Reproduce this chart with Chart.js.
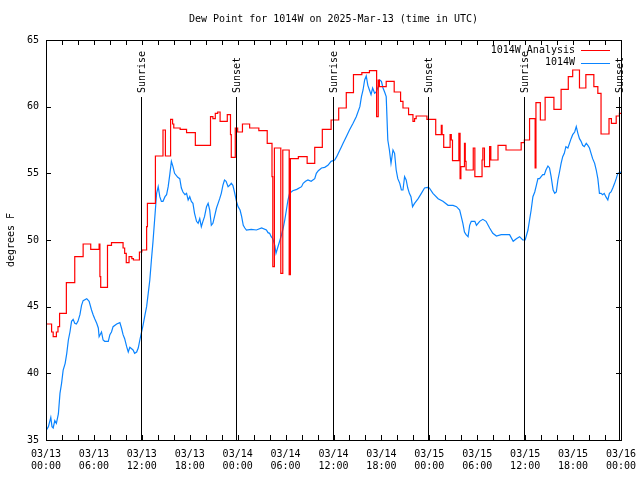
<!DOCTYPE html>
<html><head><meta charset="utf-8">
<script src="https://cdn.jsdelivr.net/npm/chart.js@4/dist/chart.umd.min.js"></script>
<style>html,body{margin:0;padding:0;background:#fff}#wrap{width:640px;height:480px}</style>
</head><body><div id="wrap"><canvas id="c" width="640" height="480"></canvas></div>
<script>
const titleText = 'Dew Point for 1014W on 2025-Mar-13 (time in UTC)';
const yAxisTitle = 'degrees F';
const xTickDates = ['03/13','03/13','03/13','03/13','03/14','03/14','03/14','03/14','03/15','03/15','03/15','03/15','03/16'];
const xTickTimes = ['00:00','06:00','12:00','18:00','00:00','06:00','12:00','18:00','00:00','06:00','12:00','18:00','00:00'];
const seriesLabels = ['1014W Analysis', '1014W'];
const seriesColors = ['#ff0000', '#0a84ff'];

// hours since 03/13 00:00 UTC
const analysisHours = [0.0,0.7,0.9,1.3,1.5,1.7,2.55,3.6,4.65,5.6,6.65,6.75,6.85,7.7,8.2,9.65,9.85,10.05,10.4,10.75,10.95,11.7,12.0,12.6,12.7,13.7,14.65,14.95,15.6,15.85,16.0,16.8,17.6,18.7,20.6,20.9,21.2,21.5,21.8,22.7,23.1,23.2,23.7,24.0,24.6,25.5,26.65,27.7,28.3,28.4,28.6,29.4,29.65,30.45,30.6,31.6,32.7,33.65,34.6,35.7,36.65,37.6,38.5,39.55,40.5,41.4,41.6,41.75,42.6,43.6,44.4,44.7,45.4,45.95,46.15,46.35,47.7,48.8,49.5,49.6,49.8,50.6,50.75,50.9,51.7,51.85,51.95,52.4,52.5,52.6,53.5,53.7,54.6,54.7,54.9,55.55,55.7,56.6,57.6,59.5,59.9,60.55,61.25,61.35,61.9,62.5,63.6,64.5,65.4,65.95,66.8,67.6,68.6,69.1,69.5,70.5,70.8,71.4,71.8,72.0];
const analysisValues = [43.7,43.1,42.75,43.1,43.5,44.5,46.8,48.75,49.7,49.3,49.7,47.25,46.45,49.6,49.8,49.4,49.0,48.3,48.75,48.6,48.5,49.1,49.25,51.0,52.75,56.3,58.25,56.3,59.05,58.7,58.4,58.3,58.05,57.1,59.25,59.1,59.5,59.6,58.9,59.4,57.9,56.2,58.4,58.1,58.7,58.4,58.2,57.25,54.75,48.0,56.9,47.5,56.75,47.4,56.1,56.25,55.75,56.95,58.3,59.0,59.9,61.05,62.4,62.55,62.7,59.25,62.0,61.5,61.9,61.1,60.4,59.9,59.4,58.9,59.1,59.3,59.05,57.9,58.6,57.9,56.95,57.9,57.5,55.95,58.0,54.6,55.5,57.25,55.9,55.25,56.9,54.75,56.0,56.9,55.5,57.0,56.0,57.1,56.75,57.3,57.5,59.1,55.4,60.3,59.0,60.7,59.8,61.3,62.25,62.75,61.4,62.4,61.5,61.0,57.95,59.1,58.75,59.3,59.5,59.5];

const obsHours = [0.0,0.3,0.6,0.75,0.9,1.1,1.3,1.55,1.75,1.95,2.15,2.4,2.6,2.8,3.0,3.2,3.4,3.6,3.8,4.0,4.25,4.45,4.65,5.1,5.4,5.7,5.9,6.1,6.35,6.55,6.65,6.95,7.15,7.35,7.8,8.0,8.2,8.4,8.85,9.25,9.45,9.65,9.85,10.1,10.3,10.5,10.9,11.1,11.35,11.55,11.75,11.95,12.15,12.4,12.6,12.8,13.0,13.2,13.4,13.6,13.85,14.05,14.25,14.45,14.65,14.9,15.1,15.3,15.5,15.7,15.9,16.1,16.5,16.75,16.95,17.15,17.4,17.6,17.8,18.0,18.2,18.4,18.6,18.85,19.05,19.25,19.45,19.65,19.85,20.1,20.3,20.5,20.7,20.9,21.1,21.35,21.55,21.75,21.95,22.15,22.35,22.55,22.8,23.0,23.2,23.4,23.6,23.85,24.05,24.3,24.5,24.7,24.9,25.1,25.7,26.35,27.0,27.6,27.8,28.0,28.2,28.4,28.65,28.8,29.0,29.3,29.5,29.7,29.9,30.1,30.3,30.5,30.9,31.4,32.0,32.2,32.5,32.8,33.2,33.65,33.85,34.1,34.5,34.9,35.3,35.7,36.15,36.4,36.8,37.0,37.2,37.6,38.0,38.45,38.85,39.3,39.5,39.7,39.9,40.1,40.3,40.5,40.7,40.9,41.15,41.35,41.6,41.8,42.0,42.2,42.4,42.6,42.8,43.0,43.2,43.45,43.65,43.85,44.05,44.3,44.5,44.7,44.9,45.1,45.3,45.5,45.7,45.9,46.15,46.6,47.0,47.4,47.75,48.0,48.45,49.1,49.7,50.35,50.97,51.4,51.8,52.0,52.2,52.4,52.6,52.85,53.05,53.25,53.7,53.9,54.1,54.3,54.7,55.1,55.55,55.95,56.4,57.0,57.6,58.05,58.5,58.9,59.3,59.7,60.0,60.35,60.55,60.75,60.97,61.2,61.4,61.6,61.8,62.0,62.2,62.4,62.6,62.85,63.05,63.25,63.5,63.7,63.9,64.1,64.3,64.5,64.7,64.9,65.1,65.35,65.55,65.75,65.95,66.2,66.4,66.6,66.8,67.0,67.2,67.4,67.65,67.85,68.05,68.25,68.45,68.7,68.9,69.1,69.3,69.5,69.7,69.9,70.1,70.35,70.55,70.75,70.97,71.2,71.4,71.6,72.0];
const obsValues = [35.7,36.0,36.7,36.0,35.9,36.45,36.25,36.95,38.5,39.25,40.25,40.75,41.5,42.5,43.1,43.9,44.05,43.75,43.7,43.9,44.4,45.1,45.45,45.6,45.4,44.75,44.4,44.1,43.75,43.4,42.75,43.1,42.5,42.4,42.4,42.9,43.1,43.5,43.7,43.8,43.4,42.9,42.6,42.0,41.6,41.95,41.75,41.5,41.6,41.9,42.5,43.05,43.6,44.4,45.0,46.0,47.0,48.5,49.9,51.5,53.5,54.0,53.25,52.9,52.9,53.25,53.4,54.0,54.9,55.9,55.5,55.0,54.7,54.6,53.9,53.6,53.4,53.5,53.0,53.25,52.9,52.75,52.0,51.4,51.25,51.6,51.0,51.4,51.75,52.5,52.75,52.25,51.1,51.25,51.75,52.4,52.75,53.1,53.5,54.1,54.5,54.4,54.0,54.1,54.25,54.1,53.6,52.9,52.5,52.25,51.75,51.1,50.9,50.75,50.8,50.75,50.9,50.75,50.55,50.5,50.25,50.1,49.6,49.0,49.4,50.0,50.4,50.9,51.5,52.25,53.0,53.5,53.7,53.8,54.0,54.25,54.4,54.5,54.4,54.6,55.0,55.2,55.4,55.45,55.6,55.9,56.0,56.25,56.75,57.0,57.25,57.75,58.25,58.75,59.25,60.0,60.75,61.25,62.0,62.3,61.6,61.25,60.9,61.4,61.0,61.1,61.5,62.0,61.9,61.4,61.1,60.75,57.5,56.75,55.75,56.75,56.5,55.25,54.6,54.25,53.75,53.75,54.75,54.5,53.9,53.5,53.25,52.5,52.75,53.1,53.5,53.9,53.95,53.9,53.5,53.1,52.9,52.6,52.6,52.5,52.25,51.75,51.25,50.6,50.4,50.25,51.1,51.4,51.4,51.1,51.25,51.4,51.55,51.4,50.9,50.5,50.3,50.4,50.4,50.4,49.9,50.1,50.25,50.0,50.0,50.75,51.5,52.25,53.25,53.6,54.1,54.6,54.6,54.75,54.9,54.9,55.25,55.55,55.4,54.75,53.75,53.5,53.6,54.5,55.1,55.75,56.25,56.5,57.0,56.9,57.25,57.6,57.9,58.1,58.5,58.0,57.6,57.4,57.1,57.0,57.25,57.1,56.9,56.5,56.1,55.75,55.25,54.6,53.5,53.5,53.4,53.5,53.25,53.0,53.5,53.6,53.9,54.25,54.6,55.0,55.1];

const sunEventHours = [11.95, 23.8, 35.9, 47.8, 59.85, 71.7];
const sunEventLabels = ['Sunrise','Sunset','Sunrise','Sunset','Sunrise','Sunset'];

const FONT = '10px "DejaVu Sans Mono", monospace';
Chart.defaults.font.family = '"DejaVu Sans Mono", monospace';
Chart.defaults.font.size = 10;
Chart.defaults.color = '#000';

const decor = {
  id: 'decor',
  afterDraw(chart) {
    const {ctx, chartArea: a, scales: {x, y}} = chart;
    ctx.save();
    ctx.strokeStyle = '#000';
    ctx.lineWidth = 1;
    ctx.font = FONT;
    ctx.fillStyle = '#000';
    // frame
    ctx.strokeRect(a.left + 0.5, a.top + 0.5, a.right - a.left, a.bottom - a.top);
    ctx.beginPath();
    for (let h = 0; h <= 72; h += 2) {
      const px = Math.round(x.getPixelForValue(h)) + 0.5;
      ctx.moveTo(px, a.bottom); ctx.lineTo(px, a.bottom - 5);
      ctx.moveTo(px, a.top); ctx.lineTo(px, a.top + 5);
    }
    for (let v = 35; v <= 65; v += 5) {
      const py = Math.round(y.getPixelForValue(v)) + 0.5;
      ctx.moveTo(a.left, py); ctx.lineTo(a.left + 5, py);
      ctx.moveTo(a.right, py); ctx.lineTo(a.right - 5, py);
    }
    ctx.stroke();
    // sunrise / sunset lines
    const lineTop = a.top + 57;
    ctx.beginPath();
    sunEventHours.forEach(h => {
      const px = Math.round(x.getPixelForValue(h)) + 0.5;
      ctx.moveTo(px, lineTop); ctx.lineTo(px, a.bottom);
    });
    ctx.stroke();
    sunEventHours.forEach((h, i) => {
      const px = Math.round(x.getPixelForValue(h)) + 1;
      ctx.save();
      ctx.translate(px, lineTop - 4);
      ctx.rotate(-Math.PI / 2);
      ctx.textAlign = 'left';
      ctx.textBaseline = 'middle';
      ctx.fillText(sunEventLabels[i], 0, 0);
      ctx.restore();
    });
    // legend
    ctx.textAlign = 'right';
    ctx.textBaseline = 'middle';
    chart.data.datasets.forEach((ds, i) => {
      const ly = 50 + i * 12.5;
      ctx.fillStyle = '#000';
      ctx.fillText(ds.label, 575, ly);
      ctx.strokeStyle = ds.borderColor;
      ctx.beginPath();
      ctx.moveTo(581, Math.round(ly) + 0.5); ctx.lineTo(610, Math.round(ly) + 0.5);
      ctx.stroke();
    });
    // title
    ctx.fillStyle = '#000';
    ctx.textAlign = 'center';
    ctx.fillText(titleText, (a.left + a.right) / 2, 19);
    // y title
    ctx.save();
    ctx.translate(11, (a.top + a.bottom) / 2);
    ctx.rotate(-Math.PI / 2);
    ctx.fillText(yAxisTitle, 0, 0);
    ctx.restore();
    ctx.restore();
  }
};

new Chart(document.getElementById('c'), {
  type: 'line',
  data: {
    datasets: [
      {
        label: seriesLabels[0],
        data: analysisHours.map((h, i) => ({x: h, y: analysisValues[i]})),
        borderColor: seriesColors[0],
        borderWidth: 1.2,
        pointRadius: 0,
        stepped: true,
        fill: false
      },
      {
        label: seriesLabels[1],
        data: obsHours.map((h, i) => ({x: h, y: obsValues[i]})),
        borderColor: seriesColors[1],
        borderWidth: 1.2,
        pointRadius: 0,
        tension: 0,
        fill: false
      }
    ]
  },
  options: {
    responsive: false,
    animation: false,
    devicePixelRatio: 1,
    layout: {padding: {top: 40, right: 19, left: 0, bottom: 0}},
    plugins: {legend: {display: false}, title: {display: false}, tooltip: {enabled: false}},
    scales: {
      x: {
        type: 'linear', min: 0, max: 72,
        grid: {display: false, drawTicks: false},
        border: {display: false},
        afterFit: s => { s.height = 40; s.paddingLeft = 0; s.paddingRight = 0; },
        ticks: {
          stepSize: 6, autoSkip: false, maxRotation: 0, padding: 8,
          callback: v => { const i = Math.round(v / 6); return [xTickDates[i], xTickTimes[i]]; }
        }
      },
      y: {
        type: 'linear', min: 35, max: 65,
        grid: {display: false, drawTicks: false},
        border: {display: false},
        afterFit: s => { s.width = 46; s.paddingTop = 0; s.paddingBottom = 0; },
        ticks: {stepSize: 5, padding: 7}
      }
    }
  },
  plugins: [decor]
});
</script>
</body></html>
